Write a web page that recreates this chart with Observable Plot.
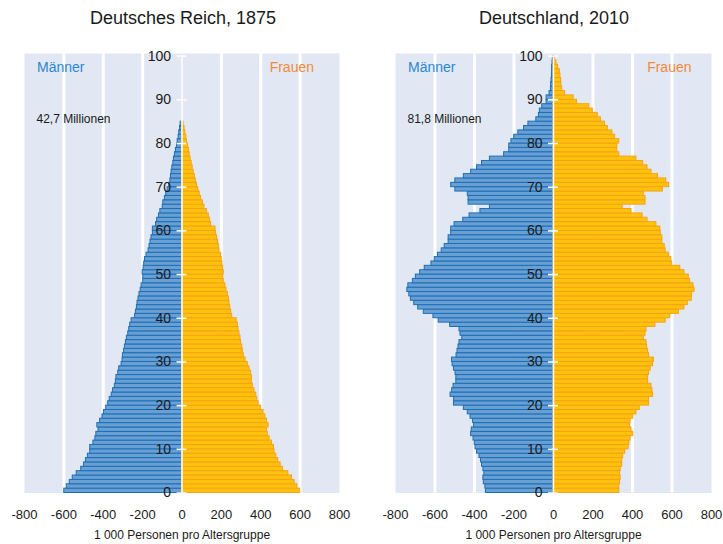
<!DOCTYPE html>
<html>
<head>
<meta charset="utf-8">
<script src="https://cdn.jsdelivr.net/npm/d3@7"></script>
<script src="https://cdn.jsdelivr.net/npm/@observablehq/plot@0.6"></script>
<style>
  html, body { margin: 0; padding: 0; background: #ffffff; }
  body { width: 723px; height: 544px; position: relative; overflow: hidden; font-family: "Liberation Sans", Arial, sans-serif; }
  .title { position: absolute; top: 7px; font-size: 18px; line-height: 22px; color: #1a1a1a; transform: translateX(-50%); white-space: nowrap; }
  .chart { position: absolute; top: 40px; line-height: 0; }
</style>
</head>
<body>
<div class="title" style="left:183px">Deutsches Reich, 1875</div>
<div class="title" style="left:554px">Deutschland, 2010</div>
<div class="chart" id="c1" style="left:0px"></div>
<div class="chart" id="c2" style="left:370px"></div>
<script>
// ---- data (1 000 persons per single year of age, index = age) ----
const men1875 = [598,585,570,555,535,512,498,488,478,466,
  466,450,440,435,424,430,416,404,396,385,
  375,367,357,350,341,336,333,324,319,307,
  302,300,294,290,285,280,273,268,263,256,
  238,234,229,226,221,216,210,205,197,197,
  200,195,192,188,180,170,165,160,155,148,
  148,132,126,117,110,98,95,87,80,73,
  65,59,56,53,49,44,41,36,31,25,
  22,17,14,10,7];
const women1875 = [600,586,572,559,540,513,501,489,479,470,
  467,457,445,436,431,440,432,424,414,402,
  389,382,377,368,360,355,355,351,343,334,
  323,314,309,306,300,297,292,287,284,278,
  255,250,245,241,238,233,226,221,212,209,
  212,209,205,202,199,190,187,183,178,173,
  170,148,143,136,126,114,106,97,90,83,
  76,70,65,59,54,49,44,39,36,31,
  25,22,17,13,8];
const men2010 = [342,345,353,355,350,355,362,367,375,387,
  395,399,405,417,414,402,407,420,434,454,
  504,503,521,513,506,492,492,496,504,511,
  514,491,486,481,476,462,471,476,523,581,
  608,657,685,705,722,730,740,735,712,697,
  675,652,618,601,585,566,551,531,531,518,
  518,501,457,425,370,322,430,430,434,497,
  518,497,454,417,387,362,322,250,224,224,
  213,199,178,149,127,87,74,69,57,35,
  35,20,13,12,10,8,7,7,5,3];
const women2010 = [333,333,337,340,337,340,348,348,353,363,
  380,384,390,404,395,387,390,404,420,437,
  484,484,504,501,496,479,479,484,492,504,
  508,484,479,474,471,457,466,471,516,568,
  591,635,663,680,700,702,714,709,692,685,
  663,642,601,596,585,568,563,551,551,543,
  541,521,476,451,395,350,466,466,457,554,
  585,571,529,496,476,454,420,333,323,323,
  333,312,298,275,261,240,224,199,181,119,
  102,59,44,40,39,35,32,23,15,7];
const totals = ["42,7 Millionen", "81,8 Millionen"];
const xTicks = [-800,-600,-400,-200,0,200,400,600,800];
const gridTicks = [-600,-400,-200,200,400,600];
const yTicks = [0,10,20,30,40,50,60,70,80,90,100];
const sexLabels = ["Männer", "Frauen"];
const axisLabel = "1 000 Personen pro Altersgruppe";

const FONT = '"Liberation Sans", Arial, sans-serif';
const MEN_FILL = "#6a9fd3", MEN_STROKE = "#1b6fb7";
const WOMEN_FILL = "#ffc20a", WOMEN_STROKE = "#f5a21c";
const PANEL = "#e1e8f4";

function pyramid(men, women, total, opts) {
  const menData = men.map((v, i) => ({age: i, v}));
  const womenData = women.map((v, i) => ({age: i, v}));
  return Plot.plot({
    width: opts.width,
    height: 504,
    marginTop: 13,
    marginBottom: 51.5,
    marginLeft: opts.marginLeft,
    marginRight: opts.marginRight,
    x: {domain: [-800, 800], axis: null},
    y: {domain: [0, 100.6], axis: null},
    style: {fontFamily: FONT, background: "transparent", overflow: "visible", color: "#1a1a1a"},
    marks: [
      Plot.frame({fill: PANEL, stroke: "none"}),
      Plot.ruleX(gridTicks, {x: d => d, stroke: "white", strokeWidth: 3}),
      Plot.rect(menData, {x1: 0, x2: d => -d.v, y1: d => d.age, y2: d => d.age + 1,
        fill: MEN_FILL, stroke: MEN_STROKE, strokeWidth: 1}),
      Plot.rect(womenData, {x1: 0, x2: d => d.v, y1: d => d.age, y2: d => d.age + 1,
        fill: WOMEN_FILL, stroke: WOMEN_STROKE, strokeWidth: 1}),
      Plot.ruleX([0], {x: d => d, y1: yTicks[0], y2: yTicks[yTicks.length - 1], stroke: "white", strokeWidth: 1.5}),
      Plot.ruleY(yTicks, {y: d => d, x1: -25, x2: 25, stroke: "white", strokeWidth: 1.5}),
      Plot.text(yTicks, {x: 0, y: d => d, text: d => String(d), dx: -11, textAnchor: "end", lineAnchor: "middle", fontSize: 14, fill: "#1a1a1a"}),
      Plot.text(xTicks, {x: d => d, frameAnchor: "bottom", text: d => String(d), dy: 21.5, lineAnchor: "middle", fontSize: 13, fill: "#1a1a1a"}),
      Plot.text([axisLabel], {frameAnchor: "bottom", text: d => d, dy: 42.5, lineAnchor: "middle", fontSize: 12, fill: "#1a1a1a"}),
      Plot.text([sexLabels[0]], {frameAnchor: "top-left", text: d => d, dx: 12.5, dy: 14, textAnchor: "start", lineAnchor: "middle", fontSize: 14, fill: "#2b87cf"}),
      Plot.text([sexLabels[1]], {frameAnchor: "top-right", text: d => d, dx: opts.frauenDx, dy: 14, textAnchor: "end", lineAnchor: "middle", fontSize: 14, fill: "#f28a3c"}),
      Plot.text([total], {frameAnchor: "top-left", text: d => d, dx: 12, dy: 66, textAnchor: "start", lineAnchor: "middle", fontSize: 12, fill: "#1a1a1a"})
    ]
  });
}

document.getElementById("c1").appendChild(
  pyramid(men1875, women1875, totals[0], {width: 360, marginLeft: 24, marginRight: 21, frauenDx: -25.5}));
document.getElementById("c2").appendChild(
  pyramid(men2010, women2010, totals[1], {width: 353, marginLeft: 25, marginRight: 12, frauenDx: -20}));
</script>
</body>
</html>
